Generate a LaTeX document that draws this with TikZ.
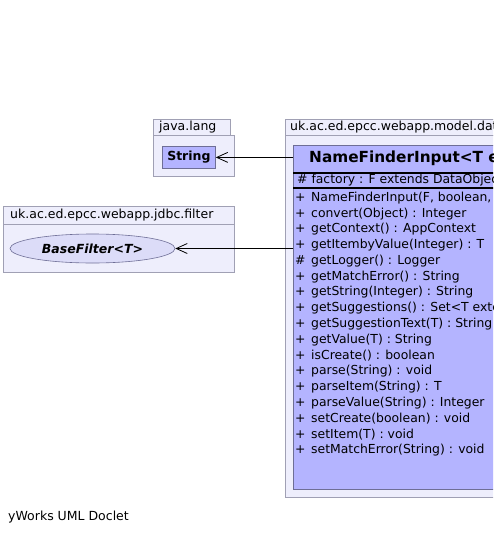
\documentclass[tikz,border=0pt]{standalone}
\usepackage{fontspec}
\setmainfont{DejaVu Sans}
\usetikzlibrary{arrows.meta,shapes.geometric}
\definecolor{pkgfill}{RGB}{238,238,252}
\definecolor{pkgline}{RGB}{160,160,180}
\definecolor{clsfill}{RGB}{180,180,255}
\definecolor{clsline}{RGB}{110,110,150}
\definecolor{ifcfill}{RGB}{220,220,248}
\tikzset{
  pkg/.style={draw=pkgline, fill=pkgfill, line width=0.8pt},
  pkglabel/.style={anchor=west, inner sep=0pt, font=\fontsize{12.5}{14}\selectfont},
  cls/.style={draw=clsline, fill=clsfill, line width=0.8pt, inner sep=0pt},
  member/.style={anchor=west, inner sep=0pt, font=\fontsize{12.4}{14}\selectfont},
  dep/.style={-{Straight Barb[length=11pt,width=10pt]}, line width=0.8pt}
}
\newcommand{\vis}[2]{\makebox[16pt][l]{#1}#2}
\begin{document}
\begin{tikzpicture}[x=1pt,y=-1pt]
  \useasboundingbox (0,0) rectangle (493,535);
  \clip (0,0) rectangle (493,535);
  % java.lang
  \draw[pkg] (153,135) rectangle (234,176);
  \draw[pkg] (153,119) rectangle (230,135);
  \node[pkglabel] (langlbl) at (159,127) {java.lang};
  \node[cls, anchor=north west, minimum width=53pt, minimum height=22pt] (str) at (162,146) {\bfseries\fontsize{12.5}{14}\selectfont String};
  % model package
  \draw[pkg] (285,135) rectangle (520,497);
  \draw[pkg] (285,119) rectangle (520,135);
  \node[pkglabel] (modellbl) at (290,127) {uk.ac.ed.epcc.webapp.model.data};
  \node[cls, anchor=north west, minimum width=240pt, minimum height=344pt] (nfi) at (293,145) {};
  \node[anchor=west, inner sep=0pt, font=\bfseries\fontsize{15.3}{18}\selectfont] (title) at (309,158) {NameFinderInput<T extends DataObject>};
  \draw[line width=1.6pt] (nfi.west |- 0,173) -- (nfi.east |- 0,173);
  \node[member] (factory) at (297,180) {\# factory : F extends DataObject};
  \draw[line width=1.6pt] (nfi.west |- 0,188) -- (nfi.east |- 0,188);
  \foreach \v/\m [count=\i from 0] in {%
      +/NameFinderInput(F{,} boolean{,} String),
      +/convert(Object) : Integer,
      +/getContext() : AppContext,
      +/getItembyValue(Integer) : T,
      \#/getLogger() : Logger,
      +/getMatchError() : String,
      +/getString(Integer) : String,
      +/getSuggestions() : Set<T extends DataObject>,
      +/getSuggestionText(T) : String,
      +/getValue(T) : String,
      +/isCreate() : boolean,
      +/parse(String) : void,
      +/parseItem(String) : T,
      +/parseValue(String) : Integer,
      +/setCreate(boolean) : void,
      +/setItem(T) : void,
      +/setMatchError(String) : void}
    \node[member] (m\i) at (295,{198+15.75*\i}) {\vis{\v}{\m}};
  % jdbc.filter
  \draw[pkg] (3,224) rectangle (234,272);
  \draw[pkg] (3,206) rectangle (234,224);
  \node[pkglabel] (filterlbl) at (10,215) {uk.ac.ed.epcc.webapp.jdbc.filter};
  \node[ellipse, draw=clsline, fill=ifcfill, line width=0.6pt, minimum width=165pt, minimum height=29pt, inner sep=0pt] (bf) at (92.5,248.5) {\bfseries\itshape\fontsize{12.5}{14}\selectfont BaseFilter<T>};
  % dependencies
  \draw[dep] (nfi.west |- str.east) -- (str.east);
  \draw[dep] (nfi.west |- bf.east) -- (bf.east);
  \node[pkglabel] (doclet) at (8,517) {yWorks UML Doclet};
\end{tikzpicture}
\end{document}
